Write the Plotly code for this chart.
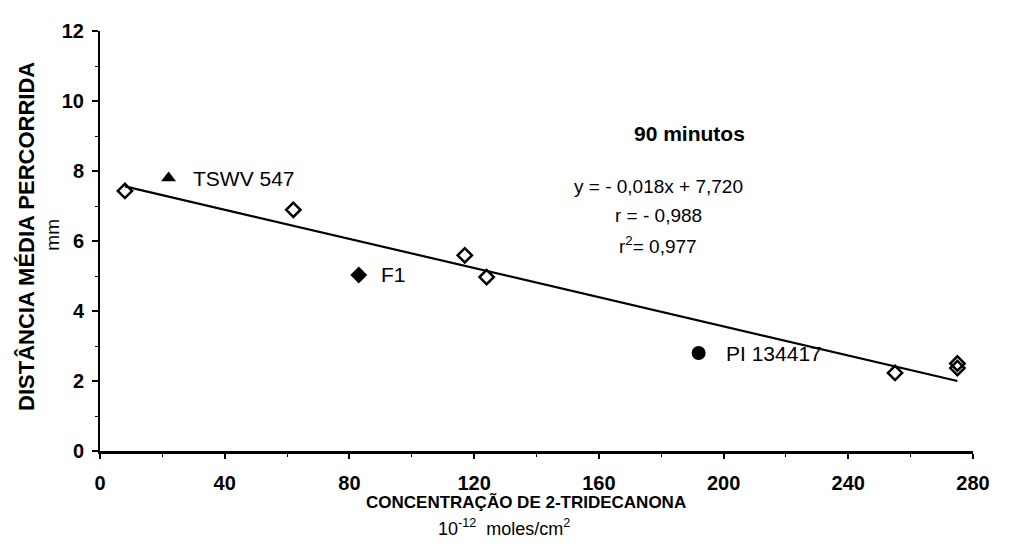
import plotly.graph_objects as go

# Open-diamond observations
obs_x = [8, 62, 117, 124, 255, 275, 275]
obs_y = [7.43, 6.89, 5.59, 4.97, 2.23, 2.5, 2.37]

# Labelled genotypes
tswv_x, tswv_y = [22], [7.8]
f1_x, f1_y = [83], [5.03]
pi_x, pi_y = [192], [2.8]

# Label anchor positions (data units)
tswv_lab = (29.2, 7.8)
f1_lab = (89.5, 5.03)
pi_lab = (200, 2.8)

# Regression line end points
line_x = [8, 275]
line_y = [7.56, 2.0]

x_ticks = [0, 40, 80, 120, 160, 200, 240, 280]
y_ticks = [0, 2, 4, 6, 8, 10, 12]

FONT = "Liberation Sans"

fig = go.Figure()
fig.add_trace(go.Scatter(x=line_x, y=line_y, mode="lines",
                         line=dict(color="black", width=2.2), showlegend=False))
fig.add_trace(go.Scatter(x=obs_x, y=obs_y, mode="markers",
                         marker=dict(symbol="diamond-open", size=11, color="black",
                                     line=dict(color="black", width=2.5)),
                         showlegend=False))
fig.add_trace(go.Scatter(x=tswv_x, y=tswv_y, mode="markers",
                         marker=dict(symbol="triangle-up", size=13, color="black"),
                         showlegend=False))
fig.add_trace(go.Scatter(x=f1_x, y=f1_y, mode="markers",
                         marker=dict(symbol="diamond", size=13, color="black"),
                         showlegend=False))
fig.add_trace(go.Scatter(x=pi_x, y=pi_y, mode="markers",
                         marker=dict(symbol="circle", size=14, color="black"),
                         showlegend=False))

ann = []
for t, (lx, ly) in [("TSWV 547", tswv_lab), ("F1", f1_lab), ("PI 134417", pi_lab)]:
    ann.append(dict(x=lx, y=ly, xref="x", yref="y", text=t, showarrow=False,
                    xanchor="left", yanchor="middle",
                    font=dict(family=FONT, size=21, color="black")))
ann.append(dict(x=189, y=9.07, xref="x", yref="y", text="<b>90 minutos</b>", showarrow=False,
                xanchor="center", yanchor="middle",
                font=dict(family=FONT, size=21, color="black")))
for t, yy in [("y = - 0,018x + 7,720", 7.57), ("r = - 0,988", 6.72), ("r<sup>2</sup>= 0,977", 5.88)]:
    ann.append(dict(x=179, y=yy, xref="x", yref="y", text=t, showarrow=False,
                    xanchor="center", yanchor="middle",
                    font=dict(family=FONT, size=19, color="black")))
ann.append(dict(x=0.4876, y=-0.1224, xref="paper", yref="paper",
                text="<b>CONCENTRAÇÃO DE 2-TRIDECANONA</b>", showarrow=False,
                xanchor="center", yanchor="middle",
                font=dict(family=FONT, size=17, color="black")))
ann.append(dict(x=0.463, y=-0.183, xref="paper", yref="paper",
                text="10<sup>-12</sup>  moles/cm<sup>2</sup>", showarrow=False,
                xanchor="center", yanchor="middle",
                font=dict(family=FONT, size=18, color="black")))
ann.append(dict(x=-0.0843, y=0.5106, xref="paper", yref="paper",
                text="<b>DISTÂNCIA MÉDIA PERCORRIDA</b>", showarrow=False, textangle=-90,
                xanchor="center", yanchor="middle",
                font=dict(family=FONT, size=22, color="black")))
ann.append(dict(x=-0.0539, y=0.515, xref="paper", yref="paper",
                text="mm", showarrow=False, textangle=-90,
                xanchor="center", yanchor="middle",
                font=dict(family=FONT, size=19, color="black")))

fig.update_layout(
    width=994, height=541,
    margin=dict(l=92, r=24, t=18, b=98),
    paper_bgcolor="white", plot_bgcolor="white",
    annotations=ann,
    font=dict(family=FONT, color="black"),
)
fig.update_xaxes(range=[0, 280], tickvals=x_ticks, ticktext=[f"<b>{v}</b>" for v in x_ticks],
                 showgrid=False, zeroline=False, showline=True, linecolor="black", linewidth=2.5,
                 ticks="outside", ticklen=5, tickwidth=1.5, tickcolor="black",
                 tickfont=dict(family=FONT, size=20, color="black"),
                 minor=dict(ticks="outside", dtick=20, ticklen=3, tickcolor="black", tickwidth=1),
                 ticklabelstandoff=7)
fig.update_yaxes(range=[0, 12], tickvals=y_ticks, ticktext=[f"<b>{v}</b>" for v in y_ticks],
                 showgrid=False, zeroline=False, showline=True, linecolor="black", linewidth=2,
                 ticks="outside", ticklen=6, tickwidth=1.5, tickcolor="black",
                 tickfont=dict(family=FONT, size=20, color="black"),
                 minor=dict(ticks="outside", dtick=1, ticklen=3, tickcolor="black", tickwidth=1),
                 ticklabelstandoff=4)

fig.write_html("out.html")
